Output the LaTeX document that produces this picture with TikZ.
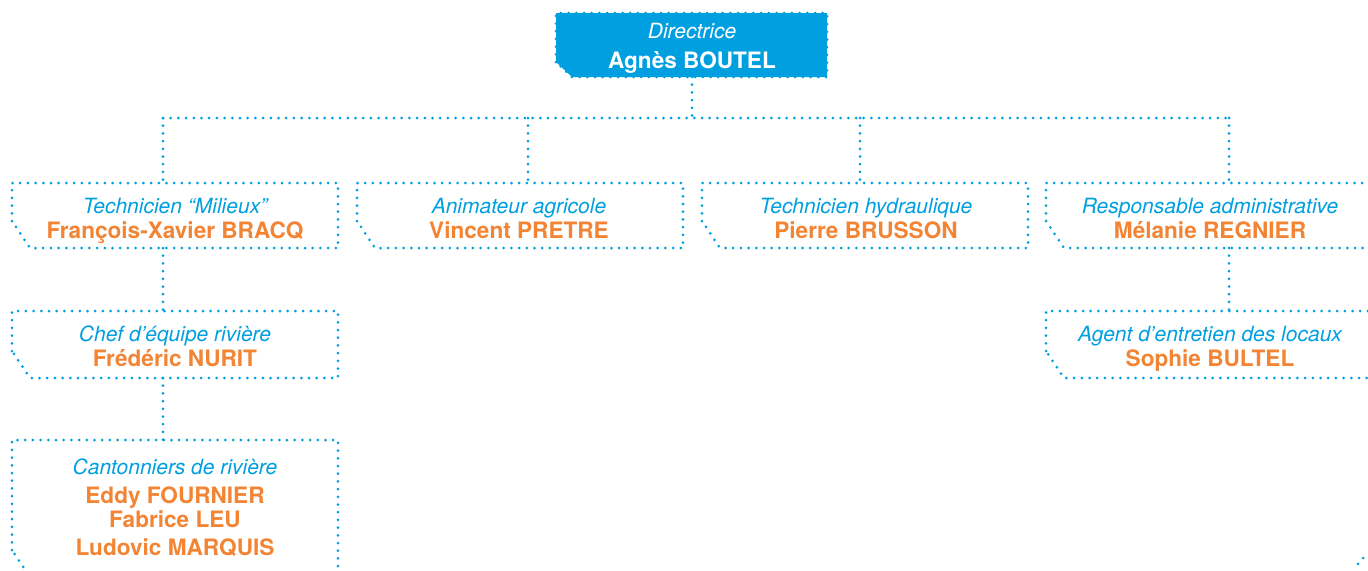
\documentclass[tikz,border=0pt]{standalone}
\usepackage{fontspec}
\setmainfont{TeX Gyre Heros}
\definecolor{orgblue}{RGB}{0,159,223}
\definecolor{orgorange}{RGB}{242,132,52}
\def\cx{18}
\def\cy{27}
\tikzset{x=.5pt,y=-.5pt,
    link/.style={draw=orgblue,line width=1.5pt,line cap=round,dash pattern=on 0pt off 3.85pt},
    role/.style={anchor=base,inner sep=0pt,text=orgblue,font=\fontsize{10.5}{12}\selectfont\itshape},
    who/.style={anchor=base,inner sep=0pt,text=orgorange,font=\fontsize{11.3}{13}\selectfont\bfseries}}
\newcommand\orgframe[4]{%
  \path[link] (#1,#4-\cy) -- (#1,#2) -- (#3,#2) -- (#3,#4) -- (#1+\cx,#4) -- cycle;}

\begin{document}
\begin{tikzpicture}
    \useasboundingbox (0,0) rectangle (1368,570);
    % directrice
    \path[link,fill=orgblue] (556,62) -- (556,13) -- (827,13) -- (827,77) -- (572,77) -- cycle;
    \node[role,text=white] (dir-t) at (692,38) {Directrice};
    \node[who,text=white] (dir-n) at (692,68) {Agnès BOUTEL};
    \coordinate (dir-s) at (692,77);
    \coordinate (bus) at (692,118);
    % boxes
    \foreach \a/\b in {12/338,357/683,702/1028,1046/1380}
      \orgframe{\a}{183}{\b}{248};
    \orgframe{12}{311}{338}{378}
    \orgframe{1046}{311}{1380}{378}
    \orgframe{12}{440}{338}{577}
    \path[link] (1363,558) -- (1356,566);
    % first row
    \foreach \x/\n/\r/\p in {175/milieux/Technicien “Milieux”/François-Xavier BRACQ,
        519/agri/Animateur agricole/Vincent PRETRE,
        866/hydro/Technicien hydraulique/Pierre BRUSSON,
        1210/admin/Responsable administrative/Mélanie REGNIER} {
      \node[role] (\n-t) at (\x,213) {\r};
      \node[who] (\n-n) at (\x,238) {\p};
    }
    \node[role] (chef-t) at (175,341) {Chef d’équipe rivière};
    \node[who] (chef-n) at (175,366) {Frédéric NURIT};
    \node[role] (agent-t) at (1210,341) {Agent d’entretien des locaux};
    \node[who] (agent-n) at (1210,366) {Sophie BULTEL};
    \node[role] (cant-t) at (175,474) {Cantonniers de rivière};
    \node[who] (cant-a) at (175,503) {Eddy FOURNIER};
    \node[who] (cant-b) at (175,527) {Fabrice LEU};
    \node[who] (cant-c) at (175,555) {Ludovic MARQUIS};
    % links
    \foreach \x/\n in {163/milieux,528/agri,860/hydro,1229/admin}
      \coordinate (\n-in) at (\x,183);
    \coordinate (milieux-out) at (163,248);
    \coordinate (chef-in) at (163,311);
    \coordinate (chef-out) at (163,378);
    \coordinate (cant-in) at (163,440);
    \coordinate (admin-out) at (1229,248);
    \coordinate (agent-in) at (1229,311);
    \path[link] (dir-s) -- (bus);
    \path[link] (milieux-in |- bus) -- (admin-in |- bus);
    \foreach \n in {milieux,agri,hydro,admin}
      \path[link] (\n-in |- bus) -- (\n-in);
    \path[link] (milieux-out) -- (chef-in);
    \path[link] (chef-out) -- (cant-in);
    \path[link] (admin-out) -- (agent-in);
\end{tikzpicture}
\end{document}
